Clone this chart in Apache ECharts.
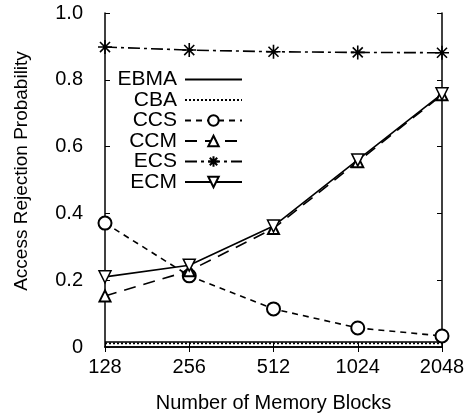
<!DOCTYPE html>
<html><head><meta charset="utf-8">
<script src="https://cdn.jsdelivr.net/npm/echarts@6/dist/echarts.min.js"></script>
<style>html,body{margin:0;padding:0;background:#fff}#c{width:470px;height:415px}</style>
</head><body><div id="c"></div>
<script>
const categories = ['128', '256', '512', '1024', '2048'];
const yTicks = ['0', '0.2', '0.4', '0.6', '0.8', '1.0'];
const EBMA = [0.015, 0.015, 0.015, 0.015, 0.015];
const CBA  = [0.011, 0.011, 0.011, 0.011, 0.011];
const CCS  = [0.371, 0.213, 0.114, 0.057, 0.033];
const CCM  = [0.153, 0.228, 0.355, 0.555, 0.755];
const ECS  = [0.898, 0.889, 0.884, 0.882, 0.881];
const ECM  = [0.21, 0.245, 0.362, 0.56, 0.758];
const seriesNames = ['EBMA', 'CBA', 'CCS', 'CCM', 'ECS', 'ECM'];

const FONT = 'Liberation Sans';
const star = 'path://M0,-6L0,6M-6,0L6,0M-4.3,-4.3L4.3,4.3M-4.3,4.3L4.3,-4.3';
const invTri = 'path://M-6,-5L6,-5L0,5Z';

function mk(name, data, lineType, symbol, size, extra) {
  return Object.assign({
    name, type: 'line', data,
    symbol: symbol || 'none', symbolSize: size || 12, showSymbol: !!symbol,
    lineStyle: {color: '#000', width: 1.6, type: lineType},
    itemStyle: {color: '#000', borderColor: '#000', borderWidth: 1.4},
    animation: false, z: 3
  }, extra || {});
}
const series = [
  mk('EBMA', EBMA, 'solid'),
  mk('CBA', CBA, [2, 2]),
  mk('CCS', CCS, [6, 5], 'emptyCircle', 13),
  mk('CCM', CCM, [12, 8], 'emptyTriangle', 11),
  mk('ECS', ECS, [12, 4, 3, 4], star, 14, {itemStyle: {color: 'none', borderColor: '#000', borderWidth: 1.6}}),
  mk('ECM', ECM, 'solid', invTri, 12, {itemStyle: {color: '#fff', borderColor: '#000', borderWidth: 1.5}})
];
const legendTops = [77, 97.5, 118, 138.5, 159, 179.5];
const legends = seriesNames.map((n, i) => {
  const l = {
    data: [n], orient: 'vertical', align: 'right', right: 222, top: legendTops[i] - 13,
    itemWidth: 57, itemHeight: 13, itemGap: 0, selectedMode: false,
    textStyle: {fontFamily: FONT, fontSize: 21, color: '#000', padding: [0, 3, 0, 0]}
  };
  if (i < 2) l.itemStyle = {opacity: 0};
  return l;
});

const chart = echarts.init(document.getElementById('c'), null, {renderer: 'canvas'});
const axisLine = {show: true, lineStyle: {color: '#000', width: 1.5}};
chart.setOption({
  animation: false,
  backgroundColor: '#fff',
  grid: {left: 105, right: 28, top: 13, bottom: 68, outerBoundsMode: 'none', containLabel: false},
  legend: legends,
  xAxis: [{
    type: 'category', data: categories, boundaryGap: false,
    axisLine, axisTick: {inside: true, length: 5, lineStyle: {color: '#000'}},
    axisLabel: {fontFamily: FONT, fontSize: 20, color: '#000', margin: 10},
    splitLine: {show: false},
    name: 'Number of Memory Blocks', nameLocation: 'middle', nameGap: 46,
    nameTextStyle: {fontFamily: FONT, fontSize: 20, color: '#000'}
  }, {
    type: 'category', data: categories, boundaryGap: false, position: 'top',
    axisLine, axisTick: {inside: true, length: 5, lineStyle: {color: '#000'}},
    axisLabel: {show: false}, splitLine: {show: false}
  }],
  yAxis: [{
    type: 'value', min: 0, max: 1, interval: 0.2,
    axisLine, axisTick: {show: true, inside: true, length: 5, lineStyle: {color: '#000'}},
    axisLabel: {fontFamily: FONT, fontSize: 20, color: '#000', margin: 22,
      formatter: v => yTicks[Math.round(v / 0.2)]},
    splitLine: {show: false},
    name: 'Access Rejection Probability', nameLocation: 'middle', nameGap: 74,
    nameTextStyle: {fontFamily: FONT, fontSize: 19, color: '#000', padding: [0, 0, 0, 18]}
  }, {
    type: 'value', min: 0, max: 1, interval: 0.2, position: 'right',
    axisLine, axisTick: {show: true, inside: true, length: 5, lineStyle: {color: '#000'}},
    axisLabel: {show: false}, splitLine: {show: false}
  }],
  series
});
</script></body></html>
